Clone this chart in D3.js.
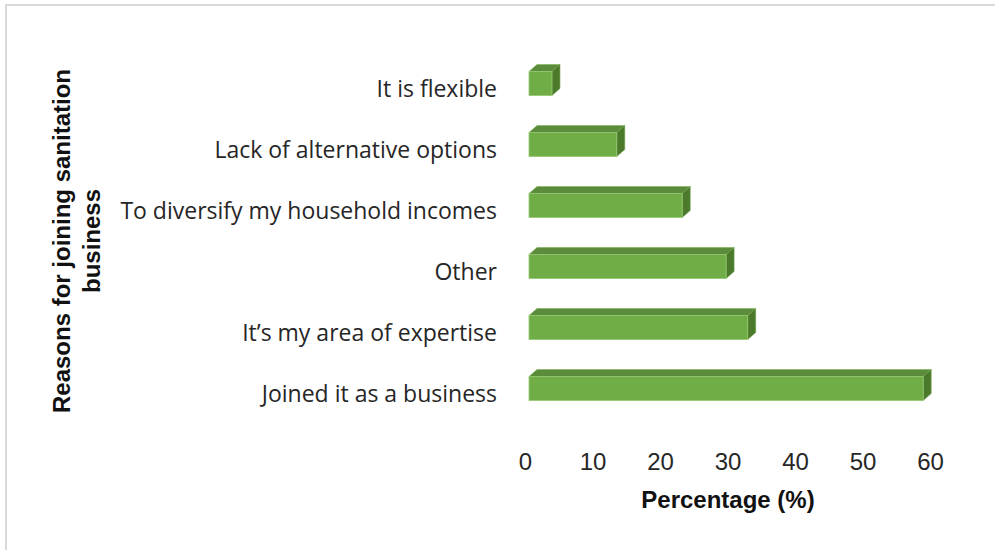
<!DOCTYPE html>
<html>
<head>
<meta charset="utf-8">
<script src="https://cdn.jsdelivr.net/npm/d3@7"></script>
<style>
  body { margin: 0; background: #fff; }
  svg { display: block; }
</style>
</head>
<body>
<svg width="995" height="550"></svg>
<script>
var categories = ["It is flexible", "Lack of alternative options", "To diversify my household incomes",
                  "Other", "It\u2019s my area of expertise", "Joined it as a business"];
var values = [3.4, 13.0, 22.7, 29.2, 32.4, 58.4];
var ticks = [0, 10, 20, 30, 40, 50, 60];

var data = categories.map(function(c, i) { return {cat: c, v: values[i]}; });

var svg = d3.select("svg");

// chart border (only top and left visible in frame)
svg.append("rect")
    .attr("x", 6).attr("y", 5)
    .attr("width", 1000).attr("height", 560)
    .attr("fill", "none")
    .attr("stroke", "#d9d9d9")
    .attr("stroke-width", 2);

var x = d3.scaleLinear().domain([0, 60]).range([525, 930]);
var y = d3.scaleBand().domain(categories).range([53, 419]);

var depthX = 8, depthY = 7, barH = 24, shift = 4;

var bars = svg.selectAll(".bar")
    .data(data)
  .enter().append("g")
    .attr("class", "bar");

function geom(d) {
  var x0 = x(0) + shift, x1 = x(d.v) + shift;
  var c = y(d.cat) + y.bandwidth() / 2;
  return {x0: x0, x1: x1, t: c - barH / 2, b: c + barH / 2};
}

// top face
bars.append("path")
    .attr("d", function(d) {
      var g = geom(d);
      return "M" + g.x0 + "," + g.t + "L" + (g.x0 + depthX) + "," + (g.t - depthY) +
             "L" + (g.x1 + depthX) + "," + (g.t - depthY) + "L" + g.x1 + "," + g.t + "Z";
    })
    .attr("fill", "#5b8c3b")
    .attr("stroke", "#7fb158").attr("stroke-width", 0.6);

// right face
bars.append("path")
    .attr("d", function(d) {
      var g = geom(d);
      return "M" + g.x1 + "," + g.t + "L" + (g.x1 + depthX) + "," + (g.t - depthY) +
             "L" + (g.x1 + depthX) + "," + (g.b - depthY) + "L" + g.x1 + "," + g.b + "Z";
    })
    .attr("fill", "#4c7a2c")
    .attr("stroke", "#6f9f4c").attr("stroke-width", 0.6);

// front face
bars.append("rect")
    .attr("x", function(d) { return geom(d).x0; })
    .attr("y", function(d) { return geom(d).t; })
    .attr("width", function(d) { var g = geom(d); return g.x1 - g.x0; })
    .attr("height", barH)
    .attr("fill", "#70ad47")
    .attr("stroke", "#94c870").attr("stroke-width", 0.8);

// category labels
svg.append("g").selectAll("text")
    .data(categories)
  .enter().append("text")
    .attr("x", 497)
    .attr("y", function(d) { return y(d) + y.bandwidth() / 2 + 5; })
    .attr("dy", "0.35em")
    .attr("text-anchor", "end")
    .style("font", "23px 'Open Sans', sans-serif")
    .attr("fill", "#262626")
    .text(function(d) { return d; });

// x axis (labels only)
var xAxis = svg.append("g")
    .attr("transform", "translate(0,462)")
    .call(d3.axisBottom(x).tickValues(ticks).tickSize(0).tickPadding(0));
xAxis.select(".domain").remove();
xAxis.selectAll("text")
    .attr("dy", "0.35em")
    .attr("y", 0)
    .style("font", "24px 'Liberation Sans', Arial, sans-serif")
    .attr("fill", "#262626");

// axis titles
svg.append("text")
    .attr("x", 728).attr("y", 500)
    .attr("dy", "0.35em")
    .attr("text-anchor", "middle")
    .style("font", "bold 24px 'Liberation Sans', Arial, sans-serif")
    .attr("fill", "#111")
    .text("Percentage (%)");

var yt = svg.append("text")
    .attr("transform", "translate(62,241) rotate(-90)")
    .attr("text-anchor", "middle")
    .style("font", "bold 24px 'Liberation Sans', Arial, sans-serif")
    .attr("fill", "#111");
yt.append("tspan").attr("x", 0).attr("y", 0).attr("dy", "0.35em").text("Reasons for joining sanitation");
yt.append("tspan").attr("x", 0).attr("y", 30).attr("dy", "0.35em").text("business");
</script>
</body>
</html>
